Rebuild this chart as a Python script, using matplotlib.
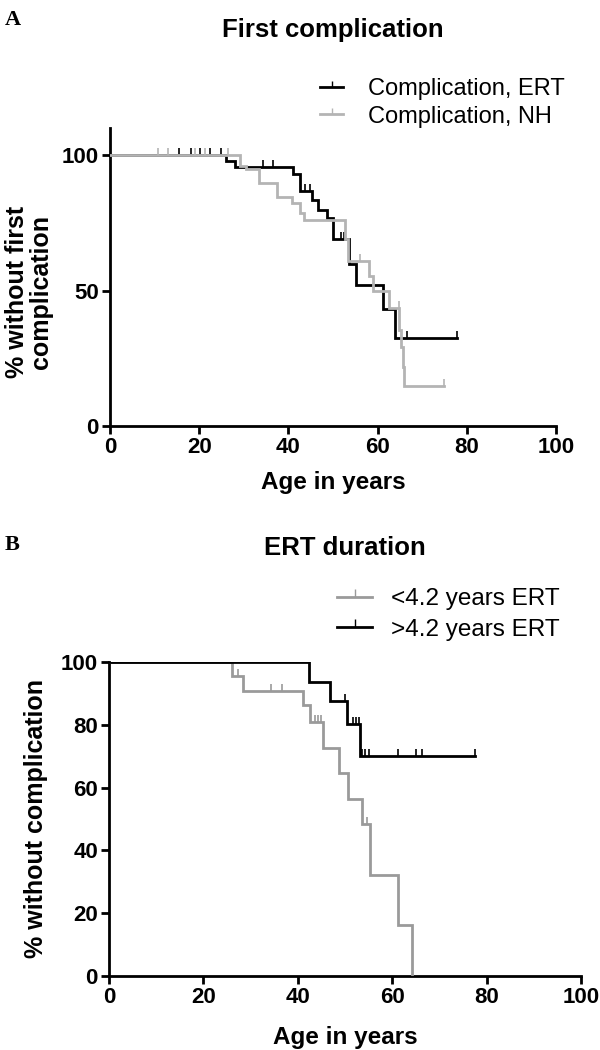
import matplotlib
matplotlib.use("Agg")
import matplotlib.pyplot as plt
import numpy as np
from matplotlib.lines import Line2D
from matplotlib.markers import TICKUP

plt.rcParams["font.family"] = ["Liberation Sans", "DejaVu Sans"]

# Panel A: first complication
a_ert_times = [0, 26.0, 28.0, 41.0, 42.6, 45.2, 46.7, 48.7, 50.1, 53.5, 55.2, 61.2, 64.0]
a_ert_surv = [100, 97.8, 95.6, 92.9, 86.8, 83.3, 79.8, 76.7, 69.0, 59.8, 52.2, 43.3, 32.6]
a_ert_end = 77.7
a_ert_cens = [15.5, 18.1, 20.2, 22.4, 24.8, 34.4, 36.5, 43.7, 44.8, 51.9, 52.5, 66.5, 77.7]

a_nh_times = [0, 29.1, 30.6, 33.4, 37.4, 40.7, 42.5, 43.4, 52.7, 53.3, 58.0, 58.9, 62.5,
              64.8, 65.3, 65.7, 65.9]
a_nh_surv = [100, 96.0, 94.7, 89.8, 84.6, 82.5, 78.8, 76.0, 69.0, 60.8, 55.5, 50.0, 43.6,
             35.3, 29.2, 21.8, 14.7]
a_nh_end = 74.9
a_nh_cens = [10.8, 13.1, 19.1, 21.3, 26.5, 56.1, 64.7, 74.9]

# Panel B: ERT duration
b_short_times = [0, 26.1, 28.3, 41.0, 42.6, 45.3, 48.7, 50.6, 53.5, 55.2, 61.2, 64.3]
b_short_surv = [100, 95.5, 90.9, 86.4, 80.8, 72.7, 64.6, 56.5, 48.4, 32.3, 16.2, 0]
b_short_end = 64.3
b_short_cens = [15.4, 18.4, 19.6, 27.4, 34.4, 36.6, 43.6, 44.3, 45.0, 54.6]

b_long_times = [0, 42.4, 46.8, 50.4, 53.2]
b_long_surv = [100, 93.75, 87.5, 80.2, 70.2]
b_long_end = 77.5
b_long_cens = [21.3, 22.7, 25.1, 26.5, 28.8, 29.4, 31.1, 40.7, 41.2, 50.0, 51.8, 52.3,
               52.9, 53.7, 54.2, 55.1, 61.3, 65.0, 66.4, 77.5]

GRAY_A = "#b4b4b4"
GRAY_B = "#9a9a9a"


def draw_km(ax, times, surv, end, cens, color, lw, z):
    x = list(times) + [end]
    y = list(surv) + [surv[-1]]
    ax.step(x, y, where="post", color=color, lw=lw, zorder=z, solid_joinstyle="miter")
    idx = np.searchsorted(times, cens, side="right") - 1
    cy = np.asarray(surv)[idx]
    ax.plot(cens, cy, ls="none", marker=TICKUP, ms=5, mew=1.2, color=color, zorder=z)


def style_axes(ax):
    for s in ["top", "right"]:
        ax.spines[s].set_visible(False)
    for s in ["left", "bottom"]:
        ax.spines[s].set_linewidth(2.0)
    ax.tick_params(direction="out", length=6, width=2.0, labelsize=16, pad=2)
    for lab in ax.get_xticklabels() + ax.get_yticklabels():
        lab.set_fontweight("bold")
    ax.set_xlim(0, 100)
    ax.set_xticks([0, 20, 40, 60, 80, 100])
    ax.set_xlabel("Age in years", fontsize=17.5, fontweight="bold")


fig = plt.figure(figsize=(6, 10.5), dpi=100)

# panel A
axA = fig.add_axes([110 / 600, 1 - 426 / 1050, 446 / 600, 298 / 1050])
draw_km(axA, a_ert_times, a_ert_surv, a_ert_end, a_ert_cens, "black", 2.0, 3)
draw_km(axA, a_nh_times, a_nh_surv, a_nh_end, a_nh_cens, GRAY_A, 2.0, 4)
axA.set_ylim(0, 110)
axA.set_yticks([0, 50, 100])
style_axes(axA)
axA.set_ylabel("% without first\ncomplication", fontsize=18, fontweight="bold",
               linespacing=1.0)
axA.yaxis.set_label_coords(-0.128, 0.45)
axA.xaxis.set_label_coords(0.5, -0.15)

hA = [Line2D([], [], color="black", lw=2.0, marker=TICKUP, ms=4, mew=1.0),
      Line2D([], [], color=GRAY_A, lw=2.0, marker=TICKUP, ms=4, mew=1.0)]
fig.legend(hA, ["Complication, ERT", "Complication, NH"], loc="upper left",
           bbox_to_anchor=(308 / 600, 1 - 66 / 1050), frameon=False, fontsize=17,
           handlelength=1.0, handletextpad=1.05, labelspacing=0.25, borderpad=0)
fig.text(333 / 600, 1 - 30 / 1050, "First complication", ha="center", va="center",
         fontsize=18.5, fontweight="bold")
fig.text(5 / 600, 1 - 20 / 1050, "A", ha="left", va="center", fontsize=16,
         fontweight="bold", family="Liberation Serif")

# panel B
axB = fig.add_axes([109 / 600, 1 - 976 / 1050, 472 / 600, 314 / 1050])
draw_km(axB, b_short_times, b_short_surv, b_short_end, b_short_cens, GRAY_B, 2.0, 3)
draw_km(axB, b_long_times, b_long_surv, b_long_end, b_long_cens, "black", 2.0, 4)
axB.set_ylim(0, 100)
axB.set_yticks([0, 20, 40, 60, 80, 100])
style_axes(axB)
axB.set_ylabel("% without complication", fontsize=18, fontweight="bold")
axB.yaxis.set_label_coords(-0.13, 0.5)
axB.xaxis.set_label_coords(0.5, -0.158)

hB = [Line2D([], [], color=GRAY_B, lw=2.0, marker=TICKUP, ms=6, mew=1.0),
      Line2D([], [], color="black", lw=2.0, marker=TICKUP, ms=6, mew=1.0)]
fig.legend(hB, ["<4.2 years ERT", ">4.2 years ERT"], loc="upper left",
           bbox_to_anchor=(325 / 600, 1 - 576 / 1050), frameon=False, fontsize=17.5,
           handlelength=1.45, handletextpad=0.75, labelspacing=0.35, borderpad=0)
fig.text(345 / 600, 1 - 548 / 1050, "ERT duration", ha="center", va="center",
         fontsize=18.5, fontweight="bold")
fig.text(5 / 600, 1 - 545 / 1050, "B", ha="left", va="center", fontsize=16,
         fontweight="bold", family="Liberation Serif")

fig.savefig("out.png", dpi=100)
